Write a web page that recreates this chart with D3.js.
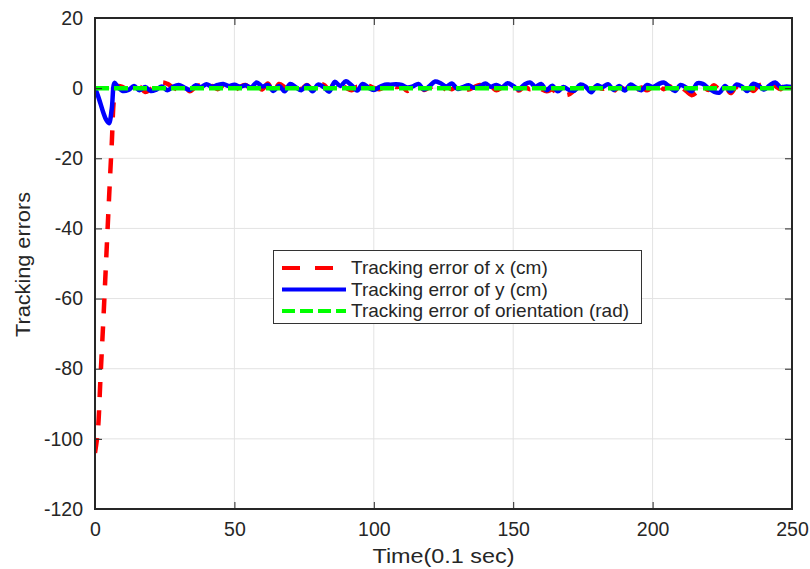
<!DOCTYPE html>
<html><head><meta charset="utf-8">
<script src="https://cdn.jsdelivr.net/npm/d3@7"></script>
<style>body{margin:0;background:#fff}svg{display:block}text{font-family:"Liberation Sans",Arial,sans-serif;fill:#262626}</style>
</head><body><svg id="c" width="810" height="569"></svg>
<script>
const time = [0,1,2,3,4,5,6,7,8,10,12,14,16,18,20,22,24,26,28,30,32,34,36,38,40,42,44,46,48,50,52,54,56,58,60,62,64,66,68,70,72,74,76,78,80,82,84,86,88,90,92,94,96,98,100,102,104,106,108,110,112,114,116,118,120,122,124,126,128,130,132,134,136,138,140,142,144,146,148,150,152,154,156,158,160,162,164,166,168,170,172,174,176,178,180,182,184,186,188,190,192,194,196,198,200,202,204,206,208,210,212,214,216,218,220,222,224,226,228,230,232,234,236,238,240,242,244,246,248,250];
const errX = [-104,-98,-82,-66,-49,-32,-16,-2,0.5,
 0.3,-0.6,-0.2,0.4,-1.1,-0.3,0.6,1.6,1.2,0.2,-0.4,0.5,-0.9,0.3,0.8,-0.2,0.6,-0.3,0.7,0.1,
 -0.5,0.4,0.9,-0.2,0.5,-0.4,1.3,-1.4,1.2,0.3,-0.6,0.5,-0.3,0.9,-0.4,0.2,1.0,-0.5,1.5,0.8,
 0.1,-0.6,0.4,-0.2,0.6,0.1,-0.3,0.4,0.9,0.3,0.6,-0.8,0.3,0.8,-0.5,0.2,0.5,-0.9,0.4,-0.3,
 0.7,0.1,-0.4,0.3,0.9,-0.2,0.4,-0.6,0.2,0.8,0.3,-0.7,0.4,-0.3,0.6,-0.2,-0.9,-0.4,-1.6,-2.0,
 -1.8,-0.6,0.3,-1.2,-0.4,0.5,-0.2,0.6,-0.8,0.4,-0.3,0.8,-0.5,0.2,-0.6,0.4,0.9,-0.3,0.6,-1.0,
 0.2,-0.8,-2.0,-1.1,0.4,-0.5,0.8,-0.3,0.5,-1.4,0.3,-0.2,0.6,-0.8,0.7,1.3,2.0,0.6,-0.3,1.4,0.2];
const errY = [0,-2,-4.5,-7,-9,-10,-6,1.5,0.5,
 -0.8,-0.5,0.6,-0.6,0.3,-0.8,-0.4,0.5,-0.6,0.4,0.9,0.2,-0.5,0.8,0.3,1.1,0.4,0.9,1.2,0.6,
 1.0,0.4,0.8,0.2,1.6,0.5,0.9,-0.8,0.6,-0.9,1.2,0.3,-0.6,0.8,-0.9,1.0,0.3,-1.0,1.8,0.6,
 2.0,0.8,-0.7,1.2,0.2,-0.5,0.3,1.0,1.0,1.1,0.9,0.2,0.5,1.2,-0.4,0.6,1.9,1.4,0.5,1.3,
 -0.2,0.3,0.8,0.1,0.5,1.3,0.4,0.9,0.2,1.4,0.6,-0.3,1.0,1.6,0.4,1.2,-0.6,0.7,-0.9,0.3,
 -0.5,-0.7,1.0,0.4,-1.2,0.8,0.3,1.1,-0.5,0.6,-0.7,1.0,0.2,-0.6,0.9,0.3,1.1,1.6,0.4,-0.8,
 0.9,0.2,-0.9,1.4,1.2,0.0,-1.0,-1.3,0.6,-0.9,1.0,0.5,-0.8,1.2,0.7,-0.4,0.8,1.6,0.2,0.5,0.3];
const timeTheta = [0,250];
const errTheta = [0,0];
const xTicks = [0,50,100,150,200,250];
const yTicks = [-120,-100,-80,-60,-40,-20,0,20];
const seriesNames = ["Tracking error of x (cm)","Tracking error of y (cm)","Tracking error of orientation (rad)"];

const svg = d3.select("#c");
const L=95,R=792,T=18,B=509;
const x = d3.scaleLinear().domain([0,250]).range([L,R]);
const y = d3.scaleLinear().domain([-120,20]).range([B,T]);

// grid
svg.append("g").selectAll("line").data(xTicks.slice(1,-1)).join("line")
 .attr("x1",d=>x(d)).attr("x2",d=>x(d)).attr("y1",T).attr("y2",B).attr("stroke","#e3e3e3").attr("stroke-width",1);
svg.append("g").selectAll("line").data(yTicks.slice(1,-1)).join("line")
 .attr("y1",d=>y(d)).attr("y2",d=>y(d)).attr("x1",L).attr("x2",R).attr("stroke","#e3e3e3").attr("stroke-width",1);

svg.append("clipPath").attr("id","cp").append("rect").attr("x",L).attr("y",T).attr("width",R-L).attr("height",B-T);
const g = svg.append("g").attr("clip-path","url(#cp)");
const line = d3.line().curve(d3.curveCatmullRom);
g.append("path").attr("d",line(time.map((t,i)=>[x(t),y(errX[i])])))
 .attr("fill","none").attr("stroke","#ff0000").attr("stroke-width",4.5).attr("stroke-dasharray","15,13");
g.append("path").attr("d",line(time.map((t,i)=>[x(t),y(errY[i])])))
 .attr("fill","none").attr("stroke","#0000ff").attr("stroke-width",4.5).attr("stroke-linejoin","round");
g.append("path").attr("d",d3.line()(timeTheta.map((t,i)=>[x(t),y(errTheta[i])])))
 .attr("fill","none").attr("stroke","#00ff00").attr("stroke-width",4.5).attr("stroke-dasharray","14,5");

// axes
const fmt = d => String(d);
const ax = svg.append("g").attr("transform",`translate(0,${B})`).call(d3.axisBottom(x).tickValues(xTicks).tickSize(-7).tickPadding(13).tickFormat(fmt));
const ay = svg.append("g").attr("transform",`translate(${L},0)`).call(d3.axisLeft(y).tickValues(yTicks).tickSize(-7).tickPadding(12).tickFormat(fmt));
const axT = svg.append("g").attr("transform",`translate(0,${T})`).call(d3.axisTop(x).tickValues(xTicks).tickSize(-7).tickFormat(""));
const ayR = svg.append("g").attr("transform",`translate(${R},0)`).call(d3.axisRight(y).tickValues(yTicks).tickSize(-7).tickFormat(""));
[ax,ay,axT,ayR].forEach(a=>{
 a.select(".domain").remove();
 a.selectAll(".tick line").attr("stroke","#262626").attr("stroke-width",1);
 a.selectAll("text").style("font-size","19.5px").attr("fill","#262626");
});
svg.append("rect").attr("x",L).attr("y",T).attr("width",R-L).attr("height",B-T).attr("fill","none").attr("stroke","#262626").attr("stroke-width",2);

svg.append("text").attr("x",(L+R)/2).attr("y",563).attr("text-anchor","middle").style("font-size","19.5px")
 .attr("textLength",142).attr("lengthAdjust","spacingAndGlyphs").text("Time(0.1 sec)");
svg.append("text").attr("transform",`translate(30,${(T+B)/2+1}) rotate(-90)`).attr("text-anchor","middle").style("font-size","19.5px")
 .attr("textLength",145).attr("lengthAdjust","spacingAndGlyphs").text("Tracking errors");

// legend
const lg = svg.append("g");
lg.append("rect").attr("x",273.5).attr("y",250.5).attr("width",368).attr("height",73).attr("fill","#fff").attr("stroke","#333").attr("stroke-width",1);
const styles=[{c:"#ff0000",d:"18,15",w:4},{c:"#0000ff",d:null,w:4},{c:"#00ff00",d:"13,5",w:4}];
seriesNames.forEach((n,i)=>{
 const yy = 268 + i*21.5;
 lg.append("line").attr("x1",282).attr("x2",346).attr("y1",yy).attr("y2",yy).attr("stroke",styles[i].c).attr("stroke-width",styles[i].w).attr("stroke-dasharray",styles[i].d);
 lg.append("text").attr("x",351).attr("y",yy+6).style("font-size","19px").attr("fill","#000").text(n);
});
</script></body></html>
